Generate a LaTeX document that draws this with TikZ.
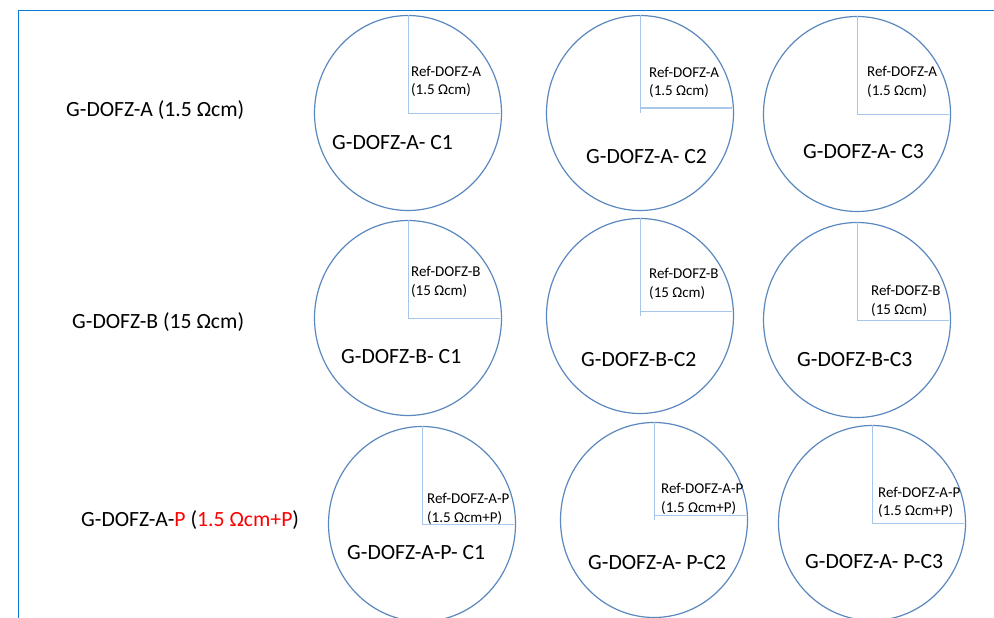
\documentclass[tikz,border=0pt]{standalone}
\usepackage{fontspec}
\setmainfont{Carlito}
\usetikzlibrary{shapes.geometric}
\definecolor{ringblue}{HTML}{5A88BE}
\definecolor{radblue}{HTML}{A8C6EA}
\definecolor{framblue}{HTML}{0A78D7}
\definecolor{redtxt}{HTML}{FF0000}
\tikzset{
  wafer/.style={ellipse, draw=ringblue, line width=1.2pt, minimum width=187pt, minimum height=195pt, inner sep=0pt},
  radial/.style={draw=radblue, line width=1pt},
  rowlabel/.style={anchor=west, inner sep=0pt, font=\fontsize{21.7}{26}\selectfont},
  mainlabel/.style={anchor=west, inner sep=0pt, font=\fontsize{21.7}{26}\selectfont},
  reflabel/.style={anchor=west, inner sep=0pt, align=left, font=\fontsize{15}{18.5}\selectfont},
}
\begin{document}
\begin{tikzpicture}[x=1pt,y=-1pt]
\useasboundingbox (0,0) rectangle (994,618);
% frame
\coordinate (fl) at (18.5,618);
\coordinate (fc) at (18.5,10.5);
\coordinate (fr) at (994,10.5);
\draw[framblue, line width=1.6pt] (fl) -- (fc) -- (fr);

% row labels
\node[rowlabel] (rowA) at (66,110) {G-DOFZ-A (1.5 Ωcm)};
\node[rowlabel] (rowB) at (72,322) {G-DOFZ-B (15 Ωcm)};
\node[rowlabel] (rowP) at (81,520) {G-DOFZ-A-\textcolor{redtxt}{P} (\textcolor{redtxt}{1.5 Ωcm+P})};

% wafers
\node[wafer] (a1) at (408,113) {};
\node[wafer] (a2) at (640,113) {};
\node[wafer] (a3) at (857,114) {};
\node[wafer] (b1) at (408,318) {};
\node[wafer] (b2) at (640,316) {};
\node[wafer] (b3) at (857,320) {};
\node[wafer] (p1) at (422,524) {};
\node[wafer] (p2) at (654,520) {};
\node[wafer] (p3) at (872,523) {};

% radial lines
\foreach \w in {a1,a3,b1,b3,p1,p3}{
  \draw[radial] (\w.north) -- (\w.center) -- ([xshift=-2pt]\w.east);
}
\foreach \w in {a2,b2,p2}{
  \draw[radial] (\w.north) -- (\w.center);
  \draw[radial] ([yshift=5pt]\w.center) -- ([yshift=5pt,xshift=-2pt]\w.east);
}

% reference labels
\node[reflabel] (ra1) at (411,81.5) {Ref-DOFZ-A\\(1.5 Ωcm)};
\node[reflabel] (ra2) at (649,82.5) {Ref-DOFZ-A\\(1.5 Ωcm)};
\node[reflabel] (ra3) at (867,82) {Ref-DOFZ-A\\(1.5 Ωcm)};
\node[reflabel] (rb1) at (411,282) {Ref-DOFZ-B\\(15 Ωcm)};
\node[reflabel] (rb2) at (649,284) {Ref-DOFZ-B\\(15 Ωcm)};
\node[reflabel] (rb3) at (871,301) {Ref-DOFZ-B\\(15 Ωcm)};
\node[reflabel] (rp1) at (427,509) {Ref-DOFZ-A-P\\(1.5 Ωcm+P)};
\node[reflabel] (rp2) at (661,499) {Ref-DOFZ-A-P\\(1.5 Ωcm+P)};
\node[reflabel] (rp3) at (878,502.5) {Ref-DOFZ-A-P\\(1.5 Ωcm+P)};

% wafer labels
\node[mainlabel] (la1) at (332,143) {G-DOFZ-A- C1};
\node[mainlabel] (la2) at (586,157) {G-DOFZ-A- C2};
\node[mainlabel] (la3) at (803,152) {G-DOFZ-A- C3};
\node[mainlabel] (lb1) at (341,357) {G-DOFZ-B- C1};
\node[mainlabel] (lb2) at (581,360) {G-DOFZ-B-C2};
\node[mainlabel] (lb3) at (797,360) {G-DOFZ-B-C3};
\node[mainlabel] (lp1) at (347,553) {G-DOFZ-A-P- C1};
\node[mainlabel] (lp2) at (588,563) {G-DOFZ-A- P-C2};
\node[mainlabel] (lp3) at (805,562) {G-DOFZ-A- P-C3};
\end{tikzpicture}
\end{document}
